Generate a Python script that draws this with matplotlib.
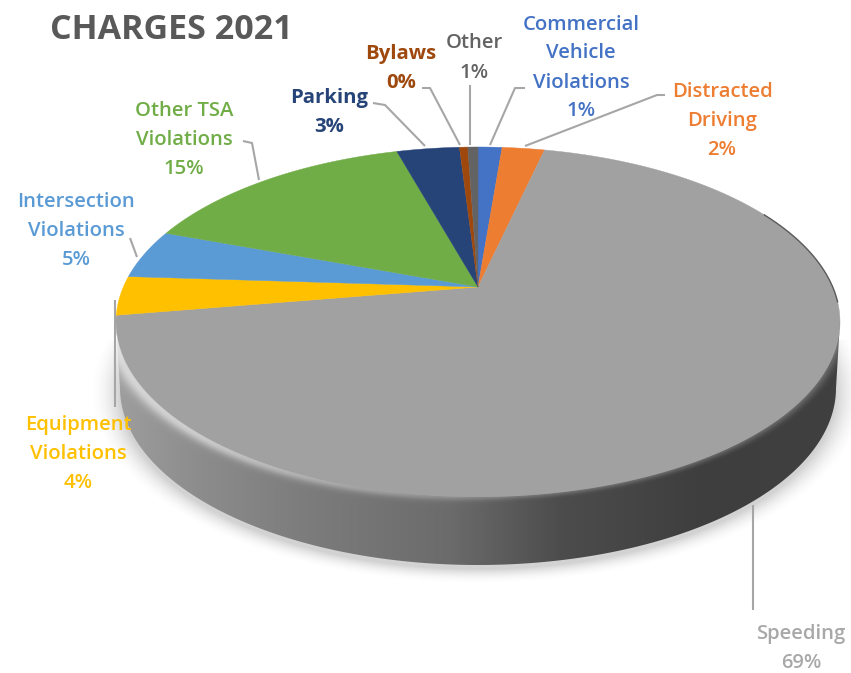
import numpy as np
import matplotlib
matplotlib.use("Agg")
import matplotlib.pyplot as plt
from matplotlib.patches import Polygon

# Chart data, clockwise from twelve o'clock
categories = ["Commercial\nVehicle\nViolations", "Distracted\nDriving", "Speeding",
              "Equipment\nViolations", "Intersection\nViolations", "Other TSA\nViolations",
              "Parking", "Bylaws", "Other"]
shares = [1.3, 2.3, 68.8, 3.6, 4.55, 15.05, 3.4, 0.45, 0.55]
title = "CHARGES 2021"

colors = ["#4472C4", "#ED7D31", "#A1A1A1", "#FFC000", "#5B9BD5", "#70AD47", "#264478", "#9E480E", "#636363"]
label_colors = ["#4472C4", "#ED7D31", "#A8A8A8", "#FFC000", "#5B9BD5", "#70AD47", "#264478", "#9E480E", "#636363"]
label_weights = ["semibold"] * 6 + ["bold", "bold", "semibold"]
label_xy = [(581, 68), (722, 121), (801, 648), (78, 454), (76, 231), (184, 140), (329, 113), (401, 68), (474, 58)]
leaders = [[(525, 88), (515, 88), (490, 145)],
           [(665, 95), (657, 95), (525, 146)],
           [(753, 505), (753, 610)],
           [(115, 300), (115, 407)],
           [(130, 238), (137, 257)],
           [(243, 141), (252, 143), (259, 180)],
           [(373, 103), (385, 105), (425, 146)],
           [(422, 88), (430, 88), (460, 145)],
           [(470, 85), (470, 145)]]

W, H = 851, 673
CX, CY, A, B = 478.0, 322.0, 362.0, 175.0   # upper rim ellipse
PERSP = 0.2                                  # shifts the hub above the ellipse centre
LOW_CY, LOW_A, LOW_B = 388.0, 358.0, 177.0   # lower rim ellipse


def rim(theta):
    """Rim point for a clockwise angle from the top, in perspective."""
    u, v = np.sin(theta), np.cos(theta)
    d = 1 + PERSP * v
    return CX + A * u * np.sqrt(1 - PERSP ** 2) / d, CY - B * (v + PERSP) / d


fig = plt.figure(figsize=(W / 100, H / 100), dpi=100)
ax = fig.add_axes([0, 0, 1, 1])
ax.set_xlim(0, W)
ax.set_ylim(H, 0)
ax.axis("off")

gx, gy = np.meshgrid(np.arange(W) + 0.5, np.arange(H) + 0.5)

# soft drop shadow beneath the disc
r_sh = np.hypot((gx - CX) / LOW_A, (gy - LOW_CY - 4) / LOW_B)
sh_alpha = 0.18 * np.clip(1 - (r_sh - 1) * LOW_B / 16, 0, 1) ** 2
sh_alpha[gy < 340] = 0
shadow = np.zeros((H, W, 4))
shadow[..., 3] = sh_alpha
ax.imshow(shadow, extent=(0, W, H, 0), zorder=1, aspect="auto", interpolation="bilinear")

# leader lines run behind the disc
for pts in leaders:
    xs, ys = zip(*pts)
    ax.plot(xs, ys, color="#A6A6A6", lw=1.5, zorder=2, solid_capstyle="butt")

# side wall: shaded left to right, clipped to the disc silhouette
t = np.linspace(-np.pi / 2, np.pi / 2, 240)
lower_x = CX + LOW_A * np.sin(t)
lower_y = LOW_CY + LOW_B * np.cos(t)
upper_x = CX + A * np.sin(t[::-1])
upper_y = CY + B * np.cos(t[::-1])
silhouette = np.column_stack([np.r_[lower_x, upper_x], np.r_[lower_y, upper_y]])
wall_x = [115, 200, 300, 450, 560, 700, 845]
wall_v = [0.62, 0.55, 0.49, 0.42, 0.30, 0.245, 0.25]
shade = np.interp(gx, wall_x, wall_v)

# wedges of the top face
fractions = np.array(shares) / np.sum(shares)
edges = np.r_[0, np.cumsum(fractions)] * 2 * np.pi
hub_x, hub_y = CX, CY - B * PERSP
for start, stop, col in zip(edges[:-1], edges[1:], colors):
    th = np.linspace(start, stop, max(int((stop - start) * 120), 4))
    x, y = rim(th)
    ax.add_patch(Polygon(np.column_stack([np.r_[hub_x, x], np.r_[hub_y, y]]), closed=True,
                         facecolor=col, edgecolor=col, lw=0.3, zorder=3))

# wall plus a soft bevel that melts into the top face
r = np.hypot((gx - CX) / A, (gy - CY) / B)
dist = (r - 1) * B
ramp = np.clip((dist + 10) / 16, 0, 1)
ramp = ramp * ramp * (3 - 2 * ramp)
# pale highlight along the lower-left rim
glow = np.exp(-((dist - 1) / 5.0) ** 2) * np.clip((520 - gx) / 320, 0, 1) * 0.24
value = np.clip(shade + glow, 0, 1)
wall = np.dstack([value, value, value, ramp])
wall[gy < 318, 3] = 0
img = ax.imshow(wall, extent=(0, W, H, 0), zorder=4, aspect="auto", interpolation="bilinear")
img.set_clip_path(Polygon(silhouette, closed=True, transform=ax.transData))

# thin dark line on the upper-right rim
th = np.linspace(np.radians(62), np.radians(95), 60)
ax.plot(*rim(th), color="#5A5A5A", lw=1.0, zorder=5)

# labels
for name, val, col, wgt, (lx, ly) in zip(categories, shares, label_colors, label_weights, label_xy):
    ax.text(lx, ly, f"{name}\n{val:.0f}%", color=col, ha="center", va="center",
            fontsize=14.6, family="Open Sans", weight=wgt, linespacing=1.6, zorder=6)

ax.text(50, 30, title, color="#595959", ha="left", va="center",
        fontsize=24.5, family="Open Sans", weight="bold", zorder=6)

ax.set_xlim(0, W)
ax.set_ylim(H, 0)
fig.savefig("out.png", dpi=100, facecolor="white")
